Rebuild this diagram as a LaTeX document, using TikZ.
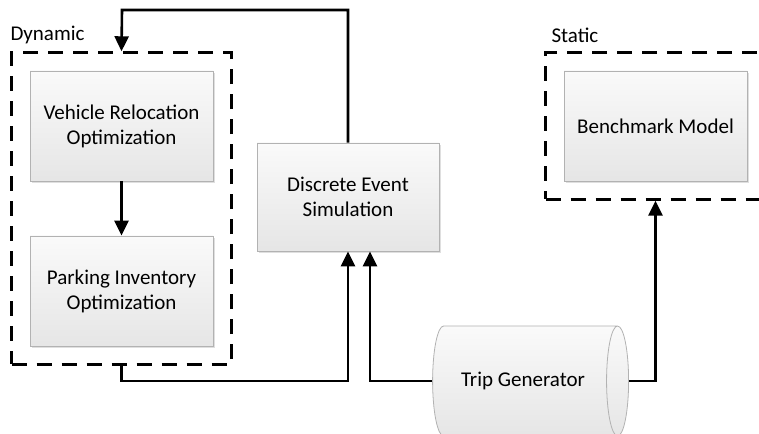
\documentclass[tikz,border=0pt]{standalone}
\usepackage{fontspec}
\setmainfont{Carlito}
\usetikzlibrary{arrows.meta,shapes.geometric,fit,shadows}
\tikzset{
  block/.style={draw=gray!60,line width=0.8pt,top color=gray!4,bottom color=gray!20,
    minimum width=183,minimum height=110,align=center,
    drop shadow={shadow xshift=2pt,shadow yshift=-2pt,opacity=0.25,fill=gray}},
  group/.style={draw,line width=2.6pt,dash pattern=on 15pt off 10pt,inner sep=18},
  grouplabel/.style={anchor=base west,inner sep=0},
  arr/.style={line width=2.6pt,-{Triangle[length=15pt,width=14pt]}},
  link/.style={line width=2.6pt}
}
\begin{document}
\begin{tikzpicture}[x=1pt,y=1pt,font=\fontsize{21}{25}\selectfont]
  \useasboundingbox (0,0) rectangle (759,433);
  \clip (0,0) rectangle (759,433);
  %% blocks
  \node[block] (vro) at (121.5,307) {Vehicle Relocation\\Optimization};
  \node[block] (pio) at (121.5,142) {Parking Inventory\\Optimization};
  \node[block,minimum width=182,minimum height=108] (des) at (348,236) {Discrete Event\\Simulation};
  \node[block] (bench) at (655.5,307) {Benchmark Model};
  \node[draw=gray!60,line width=0.8pt,top color=gray!4,bottom color=gray!20,
    shape=cylinder,aspect=0.9,minimum width=110,minimum height=196] (trip) at (523,52) {Trip Generator};
  %% groups
  \node[group,fit=(vro)(pio)] (dyn) {};
  \node[group,fit=(bench)] (static) {};
  \node[grouplabel] at ([yshift=11]dyn.north west) {Dynamic};
  \node[grouplabel,xshift=7] at ([yshift=9]static.north west) {Static};
  %% connectors
  \coordinate (topturn) at (122,423);
  \coordinate (dynout) at (dyn.south |- trip.west);
  \draw[arr] (vro) -- (pio);
  \draw[arr] (des.north) |- (topturn) -- (dyn.north);
  \draw[arr] (dyn.south) -- (dynout) -| (des.south);
  \draw[arr] (trip.west) -| ([xshift=22]des.south);
  \draw[arr] (trip.east) -| (static.south);
\end{tikzpicture}
\end{document}
